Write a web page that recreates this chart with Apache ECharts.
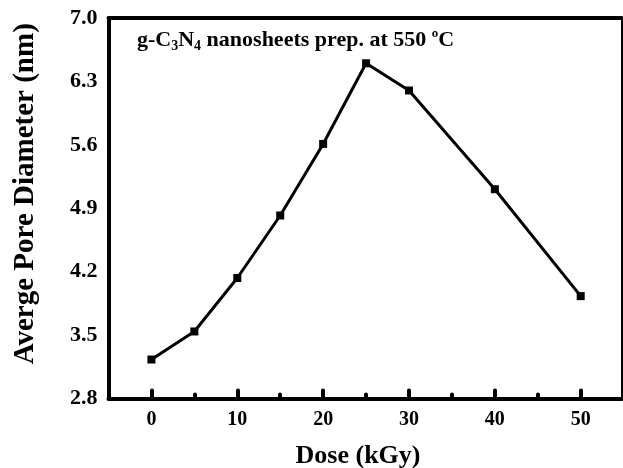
<!DOCTYPE html>
<html>
<head>
<meta charset="utf-8">
<script src="https://cdn.jsdelivr.net/npm/echarts@6/dist/echarts.min.js"></script>
<style>
  html, body { margin: 0; padding: 0; background: #fff; }
  #chart { width: 623px; height: 468px; }
</style>
</head>
<body>
<div id="chart"></div>
<script>
// Average pore diameter of g-C3N4 nanosheets versus irradiation dose
const doses = [0, 5, 10, 15, 20, 25, 30, 40, 50];
const diameters = [3.23, 3.54, 4.13, 4.82, 5.61, 6.5, 6.2, 5.11, 3.93];
const yTicks = [2.8, 3.5, 4.2, 4.9, 5.6, 6.3, 7.0];
const xMajorTicks = [0, 10, 20, 30, 40, 50];
const xMinorTicks = [5, 15, 25, 35, 45];

const FONT = '"Liberation Serif", "Times New Roman", serif';
const X_MIN = -5, X_MAX = 54.75;
const Y_MIN = 2.8, Y_MAX = 7.0;

const chart = echarts.init(document.getElementById('chart'));

chart.setOption({
  backgroundColor: '#fff',
  animation: false,
  grid: { left: 108.5, right: 1.5, top: 18, bottom: 69.5, outerBoundsMode: 'none', containLabel: false },
  title: {
    left: 137,
    top: 27,
    padding: 0,
    text: 'g-C{sub|3}N{sub|4} nanosheets prep. at 550 {sup|o}C',
    textStyle: {
      fontFamily: FONT, fontWeight: 'bold', fontSize: 22, color: '#000',
      lineHeight: 26,
      rich: {
        sub: { fontFamily: FONT, fontWeight: 'bold', fontSize: 14, color: '#000',
               lineHeight: 26, verticalAlign: 'bottom', padding: [10, 0, 0, 0] },
        sup: { fontFamily: FONT, fontWeight: 'bold', fontSize: 13, color: '#000',
               lineHeight: 26, verticalAlign: 'top', padding: [0, 0, 8, 0] }
      }
    }
  },
  xAxis: [
    {
      type: 'value', min: X_MIN, max: X_MAX, position: 'bottom',
      name: 'Dose (kGy)', nameLocation: 'middle', nameGap: 45,
      nameTextStyle: { fontFamily: FONT, fontWeight: 'bold', fontSize: 26, color: '#000',
                       padding: [0, 14, 0, 0] },
      axisLine: { show: true, onZero: false, lineStyle: { color: '#000', width: 4 } },
      axisTick: { show: true, inside: true, length: 8, customValues: xMajorTicks,
                  lineStyle: { color: '#000', width: 4, cap: 'round' } },
      axisLabel: { customValues: xMajorTicks, margin: 11, fontFamily: FONT,
                   fontWeight: 'bold', fontSize: 20, color: '#000' },
      splitLine: { show: false }
    },
    {
      type: 'value', min: X_MIN, max: X_MAX, position: 'bottom',
      axisLine: { show: false, onZero: false },
      axisTick: { show: true, inside: true, length: 4, customValues: xMinorTicks,
                  lineStyle: { color: '#000', width: 4, cap: 'round' } },
      axisLabel: { show: false },
      splitLine: { show: false }
    },
    {
      type: 'value', min: X_MIN, max: X_MAX, position: 'top',
      axisLine: { show: true, onZero: false, lineStyle: { color: '#000', width: 4 } },
      axisTick: { show: false }, axisLabel: { show: false },
      splitLine: { show: false }
    }
  ],
  yAxis: [
    {
      type: 'value', min: Y_MIN, max: Y_MAX, interval: 0.7, position: 'left',
      name: 'Averge Pore Diameter (nm)', nameLocation: 'middle', nameGap: 68,
      nameTextStyle: { fontFamily: FONT, fontWeight: 'bold', fontSize: 29, color: '#000',
                       padding: [0, 0, 0, 29] },
      axisLine: { show: true, onZero: false, lineStyle: { color: '#000', width: 4 } },
      axisTick: { show: false },
      axisLabel: { customValues: yTicks, margin: 11, fontFamily: FONT, fontWeight: 'bold',
                   fontSize: 22, color: '#000', formatter: v => v.toFixed(1) },
      splitLine: { show: false }
    },
    {
      type: 'value', min: Y_MIN, max: Y_MAX, position: 'right',
      axisLine: { show: true, onZero: false, lineStyle: { color: '#000', width: 2 } },
      axisTick: { show: false }, axisLabel: { show: false },
      splitLine: { show: false }
    }
  ],
  series: [
    {
      type: 'line',
      xAxisIndex: 0, yAxisIndex: 0,
      data: doses.map((d, i) => [d, diameters[i]]),
      symbol: 'rect', symbolSize: 8,
      lineStyle: { color: '#000', width: 3 },
      itemStyle: { color: '#000' }
    }
  ]
});
</script>
</body>
</html>
